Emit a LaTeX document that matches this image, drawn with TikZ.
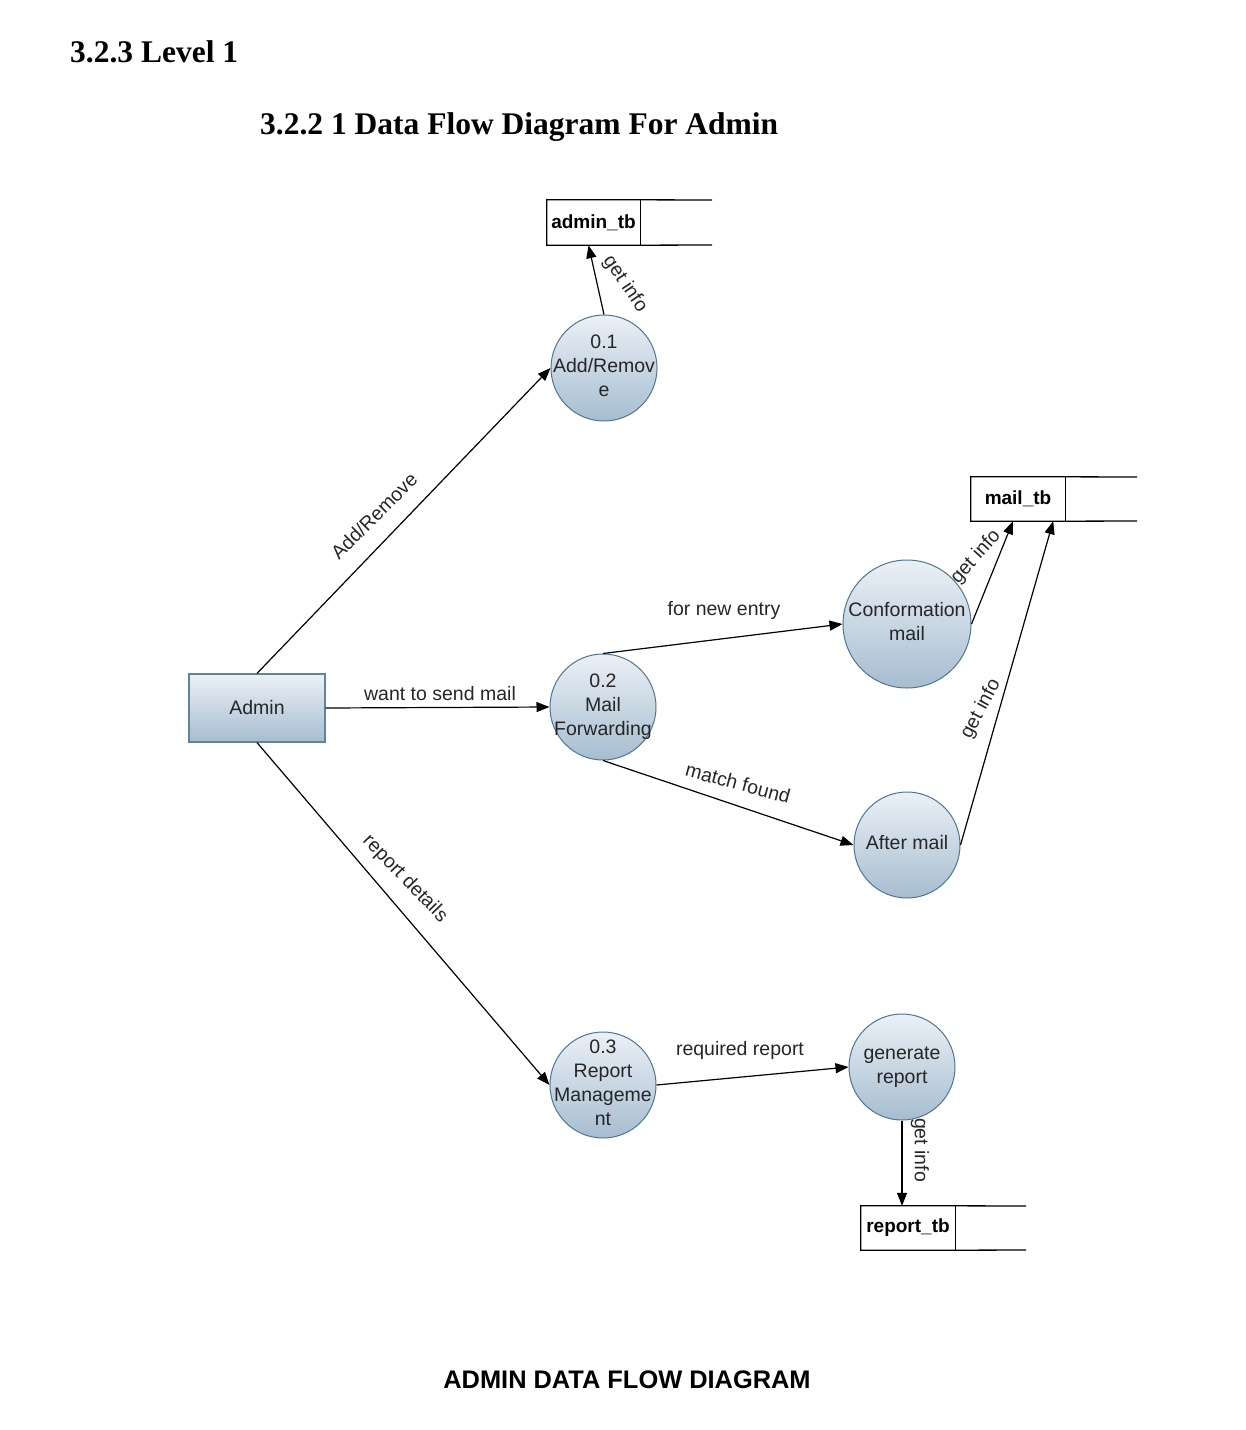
\documentclass[tikz,border=0pt]{standalone}
\usepackage{fontspec}
\setmainfont{Liberation Serif}
\setsansfont{Liberation Sans}
\usetikzlibrary{arrows.meta}
\definecolor{cedge}{HTML}{4F7591}
\definecolor{ctop}{HTML}{EBF0F6}
\definecolor{cbot}{HTML}{A6BDD0}
\newcommand{\proctext}[1]{\makebox[0pt]{\begin{tabular}{@{}c@{}}#1\end{tabular}}}
\tikzset{
  proc/.style={circle, draw=cedge, line width=1pt, top color=ctop, bottom color=cbot,
    minimum size=106pt, inner sep=0pt, text=black!85, font=\sffamily\fontsize{19.5}{24}\selectfont},
  entity/.style={rectangle, draw=cedge!90, line width=1.2pt, top color=ctop, bottom color=cbot,
    minimum width=136pt, minimum height=68pt, inner sep=0pt, text=black!85, font=\sffamily\fontsize{19.5}{24}\selectfont},
  store/.style={rectangle, inner sep=0pt, font=\sffamily\bfseries\fontsize{19}{22}\selectfont},
  flow/.style={draw=black, line width=1.2pt, -{Triangle[length=13pt,width=10pt]}},
  lbl/.style={font=\sffamily\fontsize{19.5}{22}\selectfont, inner sep=0pt, text=black!85},
  storeline/.style={draw=black, line width=1.3pt},
}
\begin{document}
\begin{tikzpicture}[x=1pt,y=-1pt]
\useasboundingbox (0,0) rectangle (1246,1430);
% titles
\node[anchor=base west, inner sep=0pt, font=\rmfamily\bfseries\fontsize{31.5}{34}\selectfont] (t1) at (70,62) {3.2.3 Level 1};
\node[anchor=base west, inner sep=0pt, font=\rmfamily\bfseries\fontsize{31.5}{34}\selectfont] (t2) at (260,134) {3.2.2 1 Data Flow Diagram For Admin};
% data stores
\node[store, minimum width=93pt, minimum height=45pt] (admintb) at (593.5,222.5) {admin\_tb};
\draw[storeline] (712,200) -- (admintb.north east) -- (admintb.north west) -- (admintb.south west) -- (admintb.south east) -- (712,245);
\draw[storeline] (admintb.north east) -- (admintb.south east);
\node[store, minimum width=94pt, minimum height=44pt] (mailtb) at (1018,499) {mail\_tb};
\draw[storeline] (1137,477) -- (mailtb.north east) -- (mailtb.north west) -- (mailtb.south west) -- (mailtb.south east) -- (1137,521);
\draw[storeline] (mailtb.north east) -- (mailtb.south east);
\node[store, minimum width=94pt, minimum height=44pt] (reporttb) at (908,1228) {report\_tb};
\draw[storeline] (1026,1206) -- (reporttb.north east) -- (reporttb.north west) -- (reporttb.south west) -- (reporttb.south east) -- (1026,1250);
\draw[storeline] (reporttb.north east) -- (reporttb.south east);
% entity and processes
\node[entity] (admin) at (257,708) {Admin};
\node[proc] (c1) at (604,368) {\proctext{0.1\\Add/Remov\\e}};
\node[proc] (c2) at (603,707) {\proctext{0.2\\Mail\\Forwarding}};
\node[proc, minimum size=128pt] (conf) at (907,624) {\proctext{Conformation\\mail}};
\node[proc] (after) at (907,845) {\proctext{After mail}};
\node[proc] (c3) at (603,1085) {\proctext{0.3\\Report\\Manageme\\nt}};
\node[proc] (gen) at (902,1067) {\proctext{generate\\report}};
% flows
\draw[flow] (c1.north) -- ([xshift=-5pt]admintb.south);
\draw[flow] (admin.north) -- (c1.west);
\draw[flow] (admin.east) -- (c2.west);
\draw[flow] (c2.north) -- (conf.west);
\draw[flow] (c2.south) -- (after.west);
\draw[flow] (conf.east) -- ([xshift=-5pt]mailtb.south);
\draw[flow] (after.east) -- ([xshift=-12pt]mailtb.south east);
\draw[flow] (admin.south) -- (c3.west);
\draw[flow] (c3.east) -- (gen.west);
\draw[flow] (gen.south) -- ([xshift=-6pt]reporttb.north);
% labels
\node[lbl, rotate=-56] (l1) at (625,284) {get info};
\node[lbl, rotate=45] (l2) at (374,516) {Add/Remove};
\node[lbl] (l3) at (440,694) {want to send mail};
\node[lbl] (l4) at (724,610) {for new entry};
\node[lbl, rotate=-15] (l5) at (738,783) {match found};
\node[lbl, rotate=48] (l6) at (976,557) {get info};
\node[lbl, rotate=62] (l7) at (981,709) {get info};
\node[lbl, rotate=-46] (l8) at (405,879) {report details};
\node[lbl] (l9) at (740,1050) {required report};
\node[lbl, rotate=-90] (l10) at (920,1150) {get info};
% caption
\node[inner sep=0pt, font=\sffamily\bfseries\fontsize{25.4}{28}\selectfont] (cap) at (627,1380) {ADMIN DATA FLOW DIAGRAM};
\end{tikzpicture}
\end{document}
